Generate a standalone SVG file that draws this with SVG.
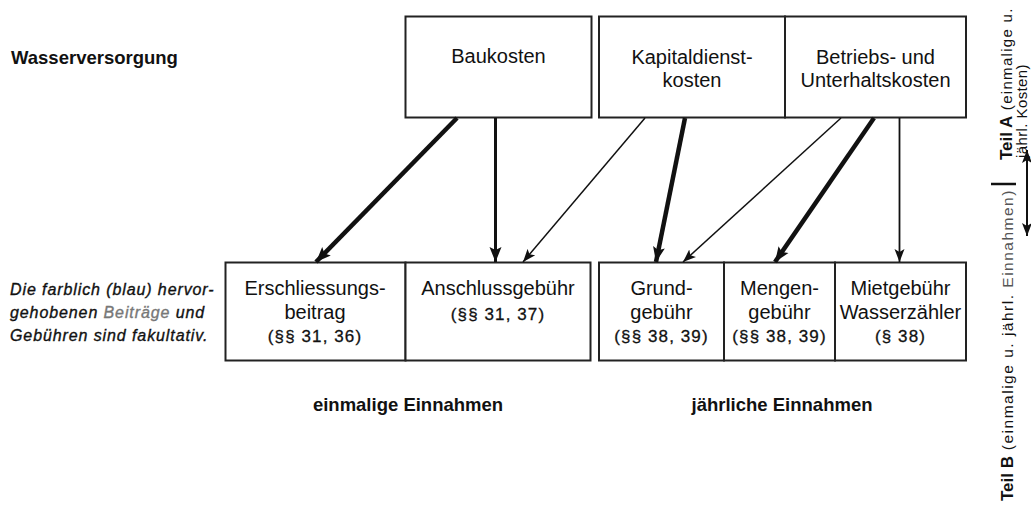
<svg xmlns="http://www.w3.org/2000/svg" width="1031" height="519" viewBox="0 0 1031 519">
<style>
text{font-family:"Liberation Sans",Arial,sans-serif;fill:#111}
.lbl{font-size:20px;text-anchor:middle}
.par{font-size:17px;text-anchor:middle;letter-spacing:1.1px;stroke:#111;stroke-width:0.3px}
.bold{font-size:18.5px;font-weight:bold}
.note{font-size:16px;font-style:italic;letter-spacing:0.9px;stroke:#111;stroke-width:0.35px}
.box{fill:#fff;stroke:#222;stroke-width:2}
.side{font-size:15px;letter-spacing:1.3px}
.side2{font-size:15px;letter-spacing:0.4px}
.sideB{font-size:15.5px;letter-spacing:1.5px}
.sideb{font-size:17px;font-weight:bold}
.c{fill:none;stroke:#111}
</style>
<defs>
<marker id="ah" markerUnits="userSpaceOnUse" markerWidth="16" markerHeight="14" refX="15" refY="7" orient="auto"><path d="M0,1 L15,7 L0,13 L3,7 z" fill="#111"/></marker>
<marker id="as" markerUnits="userSpaceOnUse" markerWidth="14" markerHeight="12" refX="13" refY="6" orient="auto"><path d="M0,1 L13,6 L0,11 L3,6 z" fill="#111"/></marker>
<marker id="ab" markerUnits="userSpaceOnUse" markerWidth="14" markerHeight="12" refX="13" refY="6" orient="auto-start-reverse"><path d="M0,1 L13,6 L0,11 L3,6 z" fill="#111"/></marker>
</defs>

<text id="title" class="bold" x="11" y="64">Wasserversorgung</text>

<g id="note">
<text class="note" x="10" y="295">Die farblich (blau) hervor-</text>
<text class="note" x="10" y="318">gehobenen <tspan fill="#777" stroke="#777">Beiträge</tspan> und</text>
<text class="note" x="10" y="341">Gebühren sind fakultativ.</text>
</g>

<g id="baukosten">
<rect class="box" x="405.5" y="16.5" width="186" height="101"/>
<text class="lbl" x="498.5" y="63">Baukosten</text>
</g>
<g id="kapitaldienstkosten">
<rect class="box" x="599" y="16.5" width="186" height="101"/>
<text class="lbl" x="692" y="64">Kapitaldienst-</text>
<text class="lbl" x="692" y="87">kosten</text>
</g>
<g id="betriebskosten">
<rect class="box" x="785" y="16.5" width="181" height="101"/>
<text class="lbl" x="875.5" y="64">Betriebs- und</text>
<text class="lbl" x="875.5" y="87">Unterhaltskosten</text>
</g>

<g id="erschliessungsbeitrag">
<rect class="box" x="225.5" y="262.5" width="180" height="98"/>
<text class="lbl" x="315" y="295">Erschliessungs-</text>
<text class="lbl" x="315" y="319">beitrag</text>
<text class="par" x="315" y="342">(§§ 31, 36)</text>
</g>
<g id="anschlussgebuehr">
<rect class="box" x="405.5" y="262.5" width="185" height="98"/>
<text class="lbl" x="498" y="295">Anschlussgebühr</text>
<text class="par" x="498" y="320">(§§ 31, 37)</text>
</g>
<g id="grundgebuehr">
<rect class="box" x="599" y="262.5" width="125" height="98"/>
<text class="lbl" x="661.5" y="295">Grund-</text>
<text class="lbl" x="661.5" y="319">gebühr</text>
<text class="par" x="661.5" y="342">(§§ 38, 39)</text>
</g>
<g id="mengengebuehr">
<rect class="box" x="724" y="262.5" width="111" height="98"/>
<text class="lbl" x="779.5" y="295">Mengen-</text>
<text class="lbl" x="779.5" y="319">gebühr</text>
<text class="par" x="779.5" y="342">(§§ 38, 39)</text>
</g>
<g id="mietgebuehr">
<rect class="box" x="835" y="262.5" width="131" height="98"/>
<text class="lbl" x="900.5" y="295">Mietgebühr</text>
<text class="lbl" x="900.5" y="319">Wasserzähler</text>
<text class="par" x="900.5" y="342">(§ 38)</text>
</g>

<text id="einmalig" class="bold" x="408" y="411" text-anchor="middle">einmalige Einnahmen</text>
<text id="jaehrlich" class="bold" x="782" y="411" text-anchor="middle">jährliche Einnahmen</text>

<g id="connectors">
<line class="c" x1="457" y1="118" x2="316" y2="262" stroke-width="4.5" marker-end="url(#ah)"/>
<line class="c" x1="495.5" y1="118" x2="495.5" y2="262" stroke-width="3" marker-end="url(#ah)"/>
<line class="c" x1="645" y1="118" x2="523" y2="262" stroke-width="1.5" marker-end="url(#as)"/>
<line class="c" x1="685" y1="118" x2="656" y2="262" stroke-width="4.5" marker-end="url(#ah)"/>
<line class="c" x1="841" y1="118" x2="683" y2="262" stroke-width="1.5" marker-end="url(#as)"/>
<line class="c" x1="874" y1="118" x2="775" y2="262" stroke-width="4.5" marker-end="url(#ah)"/>
<line class="c" x1="899.5" y1="118" x2="899.5" y2="262" stroke-width="1.8" marker-end="url(#as)"/>
</g>

<g id="teilA">
<text transform="translate(1012,160) rotate(-90)"><tspan class="sideb">Teil A</tspan><tspan class="side"> (einmalige u.</tspan></text>
<text class="side2" transform="translate(1027,158) rotate(-90)">jährl. Kosten)</text>
</g>
<g id="separator">
<line x1="991" y1="184" x2="1016" y2="184" stroke="#111" stroke-width="2.5"/>
<line x1="1027" y1="150" x2="1027" y2="236" stroke="#111" stroke-width="2" marker-start="url(#ab)" marker-end="url(#ab)"/>
</g>
<g id="teilB">
<text transform="translate(1013,501) rotate(-90)"><tspan class="sideb" font-size="19px">Teil B</tspan><tspan class="sideB"> (einmalige u. jährl. <tspan fill="#555">Einnahmen)</tspan></tspan></text>
</g>
</svg>
